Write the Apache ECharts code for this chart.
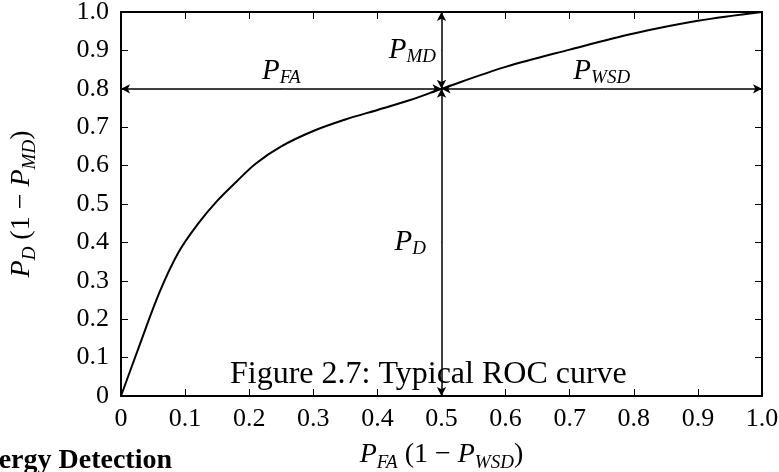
<!DOCTYPE html>
<html>
<head>
<meta charset="utf-8">
<script src="https://cdn.jsdelivr.net/npm/echarts@6/dist/echarts.min.js"></script>
<style>
  html, body { margin: 0; padding: 0; background: #fff; }
  #chart { width: 779px; height: 472px; }
</style>
</head>
<body>
<div id="chart"></div>
<script>
// ROC curve: false-alarm probability vs detection probability
const rocFalseAlarm = [0, 0.03, 0.06, 0.09, 0.12, 0.15, 0.18, 0.21, 0.25, 0.30, 0.35, 0.40, 0.45, 0.50, 0.60, 0.70, 0.80, 0.90, 1.00];
const rocDetection  = [0, 0.137, 0.270, 0.375, 0.448, 0.508, 0.558, 0.605, 0.650, 0.690, 0.720, 0.745, 0.770, 0.800, 0.857, 0.902, 0.944, 0.977, 1.000];

// Operating point and the probability spans that meet there
const operatingPoint = [0.5, 0.8];
const tickValues = [0, 0.1, 0.2, 0.3, 0.4, 0.5, 0.6, 0.7, 0.8, 0.9, 1.0];
const tickLabels = ['0', '0.1', '0.2', '0.3', '0.4', '0.5', '0.6', '0.7', '0.8', '0.9', '1.0'];

// Annotation names (main letter, subscript)
const spanNames = [
  ['P', 'FA'],
  ['P', 'WSD'],
  ['P', 'MD'],
  ['P', 'D']
];

const SERIF = '"Liberation Serif", "DejaVu Serif", serif';

const rich = {
  p:   { fontFamily: SERIF, fontStyle: 'italic', fontSize: 29, color: '#000', lineHeight: 32, verticalAlign: 'middle' },
  sub: { fontFamily: SERIF, fontStyle: 'italic', fontSize: 19, color: '#000', lineHeight: 32, verticalAlign: 'bottom' },
  t:   { fontFamily: SERIF, fontSize: 28, color: '#000', lineHeight: 34 },
  pa:  { fontFamily: SERIF, fontStyle: 'italic', fontSize: 28, color: '#000', lineHeight: 34 },
  sa:  { fontFamily: SERIF, fontStyle: 'italic', fontSize: 19, color: '#000', lineHeight: 34, verticalAlign: 'bottom' }
};

function tickText(v) {
  const i = tickValues.findIndex(t => Math.abs(t - v) < 1e-9);
  return i >= 0 ? tickLabels[i] : '';
}

function spanLabel(i) {
  return '{p|' + spanNames[i][0] + '}{sub|' + spanNames[i][1] + '}';
}

const curve = rocFalseAlarm.map((x, i) => [x, rocDetection[i]]);
const [ox, oy] = operatingPoint;

const spanLabelPoints = [
  { value: [ox / 2, oy], label: { position: 'top', distance: 1, formatter: spanLabel(0) } },
  { value: [(ox + 1) / 2, oy], label: { position: 'top', distance: 1, formatter: spanLabel(1) } },
  { value: [ox, (oy + 1) / 2], label: { position: 'left', distance: 5, formatter: spanLabel(2) } },
  { value: [ox, oy / 2], label: { position: 'left', distance: 15, formatter: spanLabel(3) } }
];

const axisCommon = {
  type: 'value',
  min: 0,
  max: 1,
  interval: 0.1,
  splitLine: { show: false },
  axisLine: { show: true, onZero: false, lineStyle: { color: '#000', width: 2 } },
  axisTick: { show: true, inside: true, length: 7, lineStyle: { color: '#000', width: 1 } }
};

const chart = echarts.init(document.getElementById('chart'), null, { renderer: 'canvas' });

chart.setOption({
  animation: false,
  backgroundColor: '#fff',
  grid: { left: 121, right: 17, top: 12, bottom: 76, containLabel: false, outerBoundsMode: 'none' },
  xAxis: [
    Object.assign({}, axisCommon, {
      position: 'bottom',
      axisLabel: { color: '#000', fontFamily: SERIF, fontSize: 26, margin: 10, formatter: tickText },
      name: '{pa|P}{sa|FA}{t| (1 − }{pa|P}{sa|WSD}{t|)}',
      nameLocation: 'middle',
      nameGap: 42,
      nameTextStyle: { rich: rich }
    }),
    Object.assign({}, axisCommon, { position: 'top', axisLabel: { show: false } })
  ],
  yAxis: [
    Object.assign({}, axisCommon, {
      position: 'left',
      axisLabel: { color: '#000', fontFamily: SERIF, fontSize: 26, margin: 12, formatter: tickText },
      name: '{pa|P}{sa|D}{t| (1 − }{pa|P}{sa|MD}{t|)}',
      nameLocation: 'middle',
      nameRotate: 90,
      nameGap: 82,
      nameTextStyle: { rich: rich }
    }),
    Object.assign({}, axisCommon, { position: 'right', axisLabel: { show: false } })
  ],
  series: [
    {
      type: 'line',
      data: curve,
      showSymbol: false,
      symbol: 'none',
      smooth: 0.35,
      lineStyle: { color: '#000', width: 2 },
      z: 3
    },
    {
      type: 'scatter',
      data: spanLabelPoints,
      symbolSize: 1,
      itemStyle: { color: '#000', opacity: 1 },
      label: { show: true, color: '#000', opacity: 1, rich: rich },
      emphasis: { disabled: true },
      z: 4,
      markLine: {
        silent: true,
        symbol: ['arrow', 'arrow'],
        symbolSize: [7, 9],
        label: { show: false },
        lineStyle: { color: '#000', width: 1.5, type: 'solid', opacity: 1 },
        data: [
          [{ coord: [ox, oy] }, { coord: [0, oy] }],
          [{ coord: [ox, oy] }, { coord: [1, oy] }],
          [{ coord: [ox, oy] }, { coord: [ox, 1] }],
          [{ coord: [ox, oy] }, { coord: [ox, 0] }]
        ]
      }
    }
  ],
  graphic: [
    {
      type: 'text',
      left: 230,
      top: 359,
      z: 10,
      style: { text: 'Figure 2.7: Typical ROC curve', fontFamily: SERIF, fontSize: 32, fill: '#000' }
    },
    {
      type: 'text',
      right: 607,
      top: 447,
      z: 10,
      style: { text: 'Energy Detection', fontFamily: SERIF, fontWeight: 'bold', fontSize: 28, fill: '#000' }
    }
  ]
});
</script>
</body>
</html>
